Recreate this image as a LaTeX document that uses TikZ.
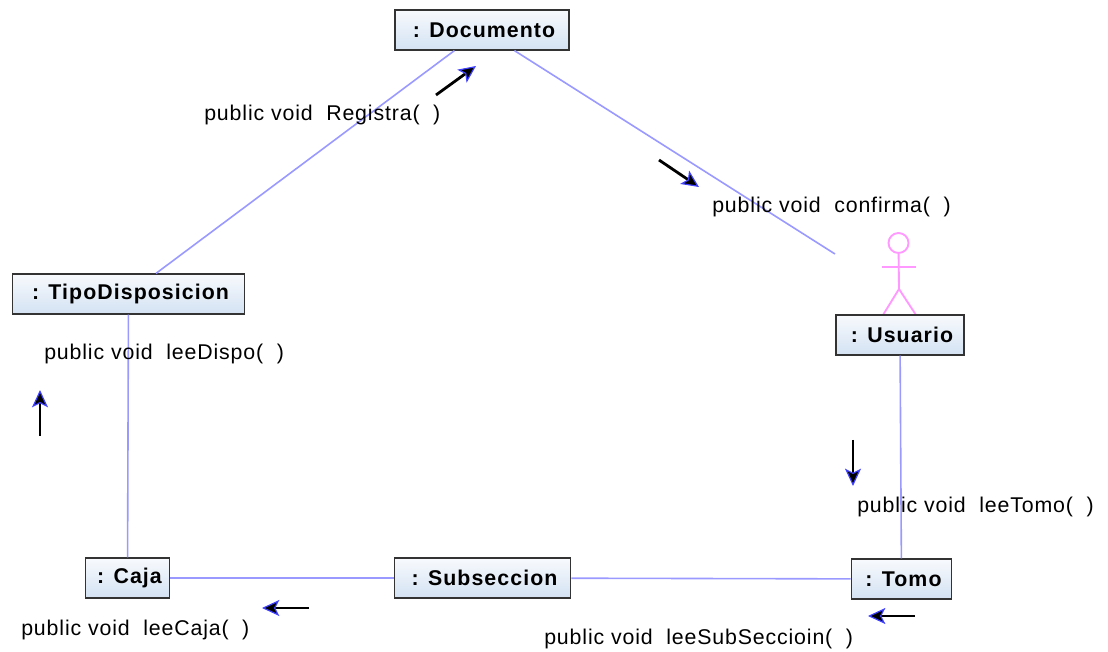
\documentclass[tikz,border=0pt]{standalone}
\usepackage{fontspec}
\setmainfont{Liberation Sans}
\newfontfamily\labelfont[LetterSpace=4]{Liberation Sans}
\newfontfamily\objectfont[LetterSpace=5,BoldFont={Liberation Sans Bold}]{Liberation Sans}
\usetikzlibrary{arrows.meta}
\definecolor{boxbottom}{HTML}{D3E2F3}
\definecolor{boxtop}{HTML}{F8FAFD}
\definecolor{linkblue}{HTML}{9999FF}
\definecolor{actorpink}{HTML}{FF99FF}
\tikzset{
  object/.style={draw=black!80,line width=0.9pt,top color=boxtop,bottom color=boxbottom,
    minimum height=30pt,inner sep=0pt,font=\fontsize{16}{16}\objectfont\bfseries,
    execute at begin node=\hspace{3pt}},
  link/.style={draw=linkblue,line width=1.2pt},
  actorline/.style={draw=actorpink,line width=1.4pt},
  message/.style={draw=black,line width=2.1pt,-{Stealth[length=13pt,width=12pt,fill=black,color=blue!75,line width=0.9pt,inset=3pt]}},
  label/.style={anchor=west,inner sep=0pt,font=\fontsize{16}{16}\labelfont}
}
\begin{document}
\begin{tikzpicture}[x=0.75pt,y=-0.75pt]
  \useasboundingbox (0,0) rectangle (1108,652);
  % the actor
  \node[actorline,draw,circle,minimum size=15pt,inner sep=0pt] (head) at (898.5,243) {};
  \coordinate (hip) at (899,289);
  \draw[actorline] (head) -- (hip);
  \coordinate (armleft) at (882,267);
  \coordinate (armright) at (916,267);
  \draw[actorline] (armleft) -- (armright);
  \coordinate (footleft) at (883,315);
  \coordinate (footright) at (916,315);
  \draw[actorline] (footleft) -- (hip) -- (footright);
  % the objects
  \node[object,minimum width=130.5pt] (documento) at (482,30) {: Documento};
  \node[object,minimum width=174.5pt] (tipo) at (128.5,294) {: TipoDisposicion};
  \node[object,minimum width=96pt] (usuario) at (900,335) {: Usuario};
  \node[object,minimum width=63.5pt] (caja) at (127.5,578) {: Caja};
  \node[object,minimum width=132.5pt] (subseccion) at (482.5,578) {: Subseccion};
  \node[object,minimum width=75.5pt] (tomo) at (901.5,579) {: Tomo};
  % the links
  \coordinate (userend) at (835,254);
  \draw[link] (documento) -- (tipo);
  \draw[link] (documento) -- (userend);
  \draw[link] (tipo) -- (caja);
  \draw[link] (caja) -- (subseccion);
  \draw[link] (subseccion) -- (tomo);
  \draw[link] (usuario) -- (tomo);
  % the messages
  \node[label] (registra) at (204,115) {public void\ \ Registra(\ \ )};
  \node[label] (confirma) at (712,207) {public void\ \ confirma(\ \ )};
  \node[label] (leedispo) at (44,354) {public void\ \ leeDispo(\ \ )};
  \node[label] (leetomo) at (857,507) {public void\ \ leeTomo(\ \ )};
  \node[label] (leecaja) at (21,630) {public void\ \ leeCaja(\ \ )};
  \node[label] (leesub) at (544,639) {public void\ \ leeSubSeccioin(\ \ )};
  % the arrows
  \coordinate (a1) at (436,95);  \coordinate (b1) at (476,66);
  \coordinate (a2) at (659,160); \coordinate (b2) at (699,187);
  \coordinate (a3) at (40,436);  \coordinate (b3) at (40,390);
  \coordinate (a4) at (853,440); \coordinate (b4) at (853,486);
  \coordinate (a5) at (309,608); \coordinate (b5) at (262,608);
  \coordinate (a6) at (915,616); \coordinate (b6) at (868,616);
  \foreach \i in {1,...,6} \draw[message] (a\i) -- (b\i);
\end{tikzpicture}
\end{document}
